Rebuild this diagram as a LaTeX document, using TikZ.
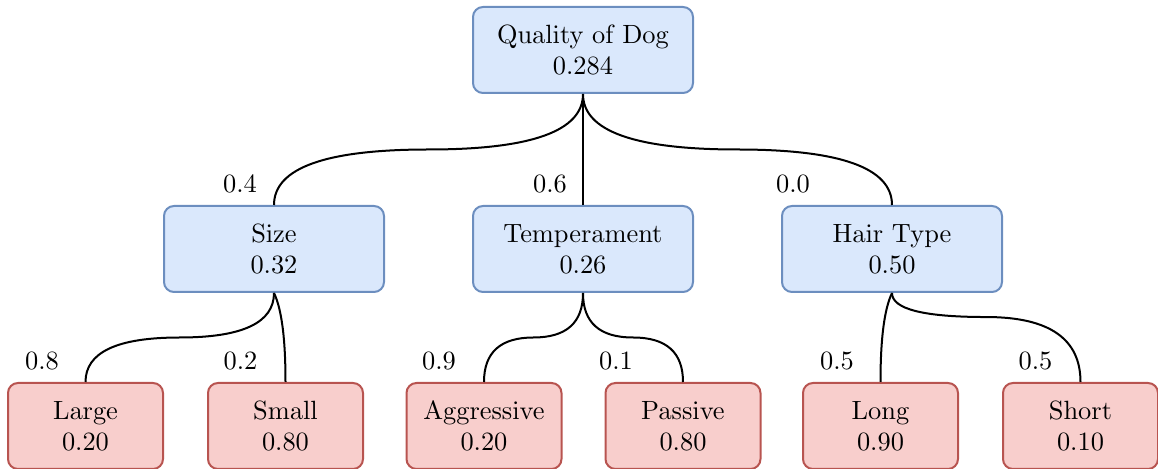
\documentclass[tikz,border=0pt]{standalone}
\usetikzlibrary{calc}
\definecolor{bluefill}{HTML}{DAE8FC}
\definecolor{blueline}{HTML}{6C8EBF}
\definecolor{redfill}{HTML}{F8CECC}
\definecolor{redline}{HTML}{B85450}
\font\labelfont=cmr10 at 13.2pt
% curved tree branch: out of the parent downwards, across at a given fraction
% of the drop (default: half way), then down into the child
\newcommand{\branch}[3][0.5]{%
  \coordinate (bs) at (#2.south);
  \coordinate (be) at (#3.north);
  \coordinate (bx) at ($(bs)!0.5!(be)$);
  \coordinate (by) at ($(bs)!#1!(be)$);
  \coordinate (bm) at (bx |- by);
  \coordinate (qa) at (bs |- bm);
  \coordinate (qb) at (be |- bm);
  \draw[edge] (bs) .. controls ($(bs)!2/3!(qa)$) and ($(bm)!2/3!(qa)$) .. (bm)
                   .. controls ($(bm)!2/3!(qb)$) and ($(be)!2/3!(qb)$) .. (be);
}
% short sideways step: one smooth bend that ends straight down into the child
\newcommand{\twig}[3][0.27]{%
  \coordinate (bs) at (#2.south);
  \coordinate (be) at (#3.north);
  \coordinate (by) at ($(bs)!#1!(be)$);
  \coordinate (qb) at (be |- by);
  \draw[edge] (bs) .. controls ($(bs)!2/3!(qb)$) and ($(be)!2/3!(qb)$) .. (be);
}
\begin{document}
\begin{tikzpicture}[x=0.5pt,y=-0.5pt,
  txt/.style={font=\fontsize{13.2}{15.5}\selectfont\labelfont},
  box/.style={txt, draw, rounded corners=5pt, line width=1pt, align=center, inner sep=0pt},
  inner/.style={box, fill=bluefill, draw=blueline, minimum width=110pt, minimum height=43pt},
  leaf/.style={box, fill=redfill, draw=redline, minimum width=77.5pt, minimum height=43pt},
  prob/.style={txt, inner sep=0pt},
  edge/.style={draw=black, line width=1pt}]
\useasboundingbox (0,0) rectangle (1158,469);

% root
\node[inner] (dog) at (583,50) {Quality of Dog\\0.284};

% attributes
\node[inner] (size) at (274,249) {Size\\0.32};
\node[inner] (temp) at (583,249) {Temperament\\0.26};
\node[inner] (hair) at (892,249) {Hair Type\\0.50};

% values
\node[leaf] (large) at (85.5,426) {Large\\0.20};
\node[leaf] (small) at (285.5,426) {Small\\0.80};
\node[leaf] (aggr) at (484,426) {Aggressive\\0.20};
\node[leaf] (pass) at (683,426) {Passive\\0.80};
\node[leaf] (long) at (880.5,426) {Long\\0.90};
\node[leaf] (short) at (1080.5,426) {Short\\0.10};

% branches
\branch{dog}{size}
\branch{dog}{temp}
\branch{dog}{hair}
\branch{size}{large}
\twig{size}{small}
\branch{temp}{aggr}
\branch{temp}{pass}
\twig{hair}{long}
\branch[0.27]{hair}{short}

% weights
\node[prob] (wsize) at (240,184) {0.4};
\node[prob] (wtemp) at (550,184) {0.6};
\node[prob] (whair) at (793,184) {0.0};
\node[prob] (wlarge) at (42,361) {0.8};
\node[prob] (wsmall) at (240.5,361) {0.2};
\node[prob] (waggr) at (439,361) {0.9};
\node[prob] (wpass) at (616,361) {0.1};
\node[prob] (wlong) at (837,361) {0.5};
\node[prob] (wshort) at (1035.5,361) {0.5};
\end{tikzpicture}
\end{document}
